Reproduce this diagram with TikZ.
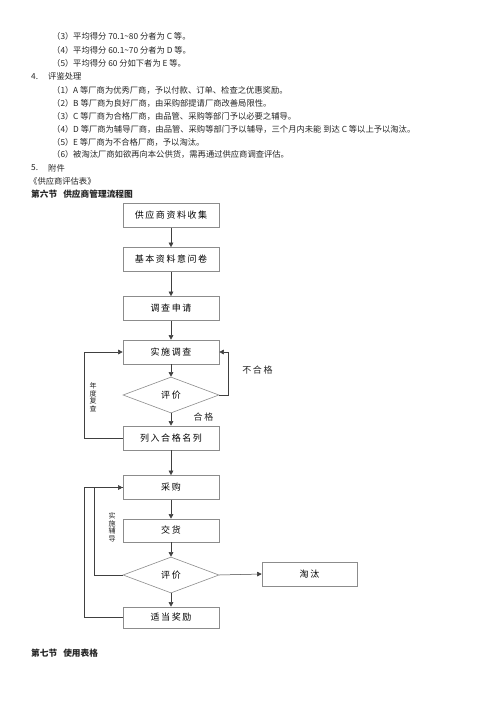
\documentclass[tikz,border=0pt]{standalone}
\usepackage{fontspec}
\setmainfont{Noto Sans CJK SC}
\newfontfamily\boxfont[LetterSpace=17]{Noto Sans CJK SC}
\usetikzlibrary{shapes.geometric,arrows.meta}

\tikzset{
  line/.style={draw=black!75, line width=0.5pt},
  arr/.style={line, -{Triangle[length=4.5pt,width=4.5pt]}},
  stepbox/.style={draw=black!45, line width=0.6pt, minimum width=96pt,
    minimum height=24pt, inner sep=0pt, font=\boxfont\fontsize{9}{10}\selectfont},
  checkbox/.style={diamond, draw=black!45, line width=0.6pt, minimum width=96pt,
    minimum height=36pt, shape aspect=2.67, inner sep=0pt,
    font=\boxfont\fontsize{9}{10}\selectfont},
  para/.style={anchor=west, inner sep=0pt, text=black!85,
    font=\fontsize{8.3}{10}\selectfont},
  head/.style={para, font=\bfseries\fontsize{8.7}{10}\selectfont},
  tag/.style={inner sep=0pt, text=black!85, font=\boxfont\fontsize{9}{10}\selectfont},
  vtag/.style={inner sep=0pt, align=center, text=black!85,
    font=\fontsize{7}{7.5}\selectfont}
}

\begin{document}
\begin{tikzpicture}[x=1pt,y=-1pt]
  \useasboundingbox[fill=white] (0,0) rectangle (500,707);

  % text above the chart
  \node[para] (n3) at (52,36.5) {（3）};
  \node[para] (t3) at (73,36.5) {平均得分 70.1\textasciitilde80 分者为 C 等。};
  \node[para] (n4) at (52,50) {（4）};
  \node[para] (t4) at (73,50) {平均得分 60.1\textasciitilde70 分者为 D 等。};
  \node[para] (n5) at (52,63) {（5）};
  \node[para] (t5) at (73,63) {平均得分 60 分如下者为 E 等。};
  \node[para] (s4) at (31,76.5) {4.};
  \node[para] (s4t) at (48,76.5) {评鉴处理};
  \node[para] (m1) at (52,90) {（1）};
  \node[para] (u1) at (73,90) {A 等厂商为优秀厂商，予以付款、订单、检查之优惠奖励。};
  \node[para] (m2) at (52,103) {（2）};
  \node[para] (u2) at (73,103) {B 等厂商为良好厂商，由采购部提请厂商改善局限性。};
  \node[para] (m3) at (52,116) {（3）};
  \node[para] (u3) at (73,116) {C 等厂商为合格厂商，由品管、采购等部门予以必要之辅导。};
  \node[para] (m4) at (52,129) {（4）};
  \node[para] (u4) at (73,129) {D 等厂商为辅导厂商，由品管、采购等部门予以辅导，三个月内未能 到达 C 等以上予以淘汰。};
  \node[para] (m5) at (52,142) {（5）};
  \node[para] (u5) at (73,142) {E 等厂商为不合格厂商，予以淘汰。};
  \node[para] (m6) at (52,154.5) {（6）};
  \node[para] (u6) at (73,154.5) {被淘汰厂商如欲再向本公供货，需再通过供应商调查评估。};
  \node[para] (s5) at (31,168) {5.};
  \node[para] (s5t) at (48,168) {附件};
  \node[para] (form) at (29,181) {《供应商评估表》};
  \node[head] (sec6) at (31,194.5) {第六节\hspace{6pt}供应商管理流程图};

  % flow chart
  \node[stepbox] (b1) at (171,215.5) {供应商资料收集};
  \node[stepbox] (b2) at (171,259.5) {基本资料意问卷};
  \node[stepbox] (b3) at (171,308.5) {调查申请};
  \node[stepbox] (b4) at (171,352) {实施调查};
  \node[checkbox] (d1) at (171,395) {评价};
  \node[stepbox] (b5) at (171,438) {列入合格名列};
  \node[stepbox] (b6) at (171,487.5) {采购};
  \node[stepbox, minimum height=23pt] (b7) at (171,530.5) {交货};
  \node[checkbox] (d2) at (171,575) {评价};
  \node[stepbox, minimum height=21pt] (b8) at (171,617.5) {适当奖励};
  \node[stepbox, minimum width=95pt] (out) at (309.5,574) {淘汰};

  \draw[arr] (b1) -- (b2);
  \draw[arr] (b2) -- (b3);
  \draw[arr] (b3) -- (b4);
  \draw[arr] (b4) -- (d1);
  \draw[arr] (d1) -- (b5);
  \draw[arr] (b5) -- (b6);
  \draw[arr] (b6) -- (b7);
  \draw[arr] (b7) -- (d2);
  \draw[arr] (d2) -- (b8);
  \draw[arr] (d2.east) -- (out.west);

  \draw[arr] (d1.east) -- ++(9,0) |- (b4.east);
  \draw[arr] (b5.west) -- ++(-38,0) |- (b4.west);
  \draw[arr] (d2.west) -- ++(-28,0) |- (b6.west);
  \draw[line] (b8.west) -- ++(-38,0) |- (b6.west);

  \node[tag] (fail) at (257.5,370) {不合格};
  \node[tag] (pass) at (203.5,417) {合格};
  \node[vtag] (yearly) at (93,397) {年\\度\\复\\查};
  \node[vtag] (coach) at (112,527.5) {实\\施\\辅\\导};

  \node[head] (sec7) at (31,653) {第七节\hspace{6pt}使用表格};
\end{tikzpicture}
\end{document}
